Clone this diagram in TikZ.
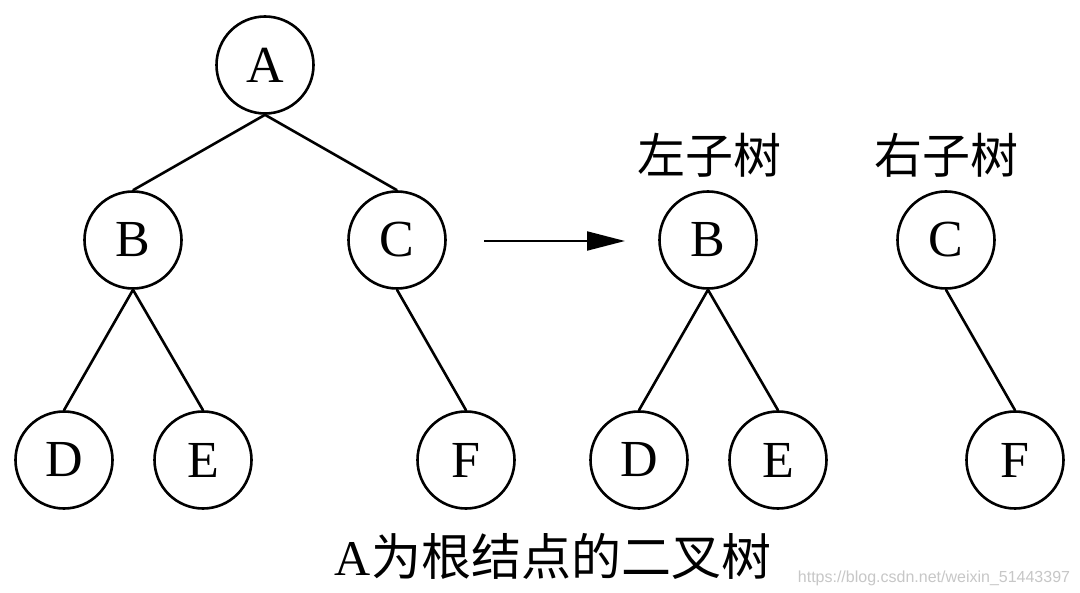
\documentclass[tikz,border=0pt]{standalone}
\usepackage{fontspec}
\setmainfont{Liberation Serif}
\newfontfamily\cjk{Noto Sans CJK SC}
\newfontfamily\wmfont{Liberation Sans}
\usetikzlibrary{arrows.meta}
\begin{document}
\begin{tikzpicture}[x=1pt,y=-1pt,
  tn/.style={circle,draw,line width=2.6pt,minimum size=97pt,inner sep=0pt,font=\fontsize{52}{52}\selectfont},
  edge/.style={line width=2.6pt},
  lbl/.style={font=\fontsize{48}{48}\selectfont\cjk,inner sep=0pt},
  arr/.style={line width=2pt,-{Triangle[length=38pt,width=19pt]}}]
\useasboundingbox[fill=white] (0,0) rectangle (1080,593);
% left tree
\node[tn] (A) at (265,65) {A};
\node[tn] (B) at (133,240) {B};
\node[tn] (C) at (397,240) {C};
\node[tn] (D) at (64,460) {D};
\node[tn] (E) at (203,460) {E};
\node[tn] (F) at (466,460) {F};
\draw[edge] (A.south) -- (B.north);
\draw[edge] (A.south) -- (C.north);
\draw[edge] (B.south) -- (D.north);
\draw[edge] (B.south) -- (E.north);
\draw[edge] (C.south) -- (F.north);
% arrow
\coordinate (as) at (484,241);
\coordinate (ae) at (625,241);
\draw[arr] (as) -- (ae);
% right subtrees
\node[lbl] (LL) at (709,155) {左子树};
\node[lbl] (RL) at (946,155) {右子树};
\node[tn] (B2) at (708,240) {B};
\node[tn] (C2) at (946,240) {C};
\node[tn] (D2) at (639,460) {D};
\node[tn] (E2) at (778,460) {E};
\node[tn] (F2) at (1015,460) {F};
\draw[edge] (B2.south) -- (D2.north);
\draw[edge] (B2.south) -- (E2.north);
\draw[edge] (C2.south) -- (F2.north);
% caption
\node[inner sep=0pt] (cap) at (553,556) {\fontsize{50}{50}\selectfont A\cjk 为根结点的二叉树};
\node[inner sep=0pt,text=black!22,font=\fontsize{16}{16}\selectfont\wmfont] (wm) at (934,578) {https://blog.csdn.net/weixin\_51443397};
\end{tikzpicture}
\end{document}
